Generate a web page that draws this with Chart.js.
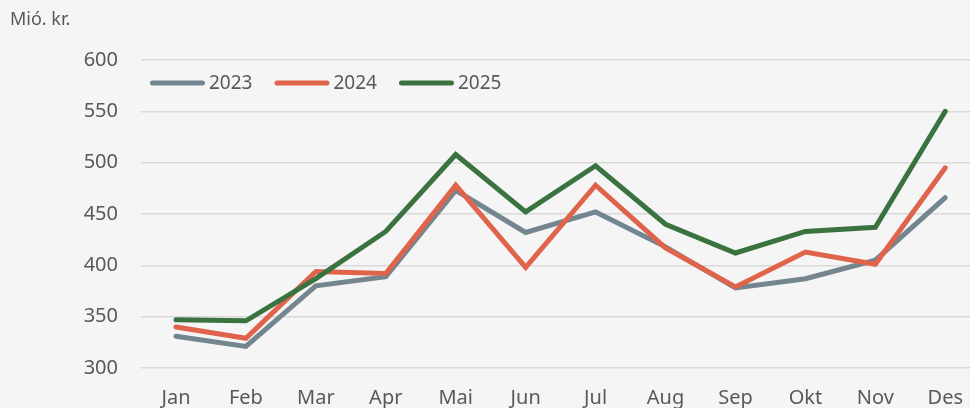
<!DOCTYPE html>
<html>
<head>
<meta charset="utf-8">
<script src="https://cdn.jsdelivr.net/npm/chart.js@4.4.1/dist/chart.umd.min.js"></script>
<style>
  html, body { margin: 0; padding: 0; background: #f5f5f5; overflow: hidden; }
  #wrap { position: relative; width: 981px; height: 412px; }
  #unit { position: absolute; left: 10px; top: 6px; font-family: "Noto Sans", sans-serif; font-size: 18px; color: #595959; }
</style>
</head>
<body>
<div id="wrap">
  <canvas id="c" width="981" height="412"></canvas>
  <div id="unit">Mió. kr.</div>
</div>
<script>
const months = ["Jan","Feb","Mar","Apr","Mai","Jun","Jul","Aug","Sep","Okt","Nov","Des"];
const seriesNames = ["2023","2024","2025"];
const values2023 = [331, 321, 380, 389, 473, 432, 452, 418, 378, 387, 405, 466];
const values2024 = [340, 329, 394, 392, 478, 398, 478, 417, 379, 413, 401, 495];
const values2025 = [347, 346, 387, 433, 508, 452, 497, 440, 412, 433, 437, 550];
const yTicks = [300, 350, 400, 450, 500, 550, 600];

const colors = ["#738690", "#e0644c", "#3a7340"];
const textColor = "#595959";
const fontFamily = "'Noto Sans', sans-serif";

const inlineLegend = {
  id: "inlineLegend",
  afterDraw(chart) {
    const ctx = chart.ctx;
    const y = 83;
    let x = 150;
    ctx.save();
    ctx.font = "19px " + fontFamily;
    ctx.textBaseline = "middle";
    chart.data.datasets.forEach(ds => {
      ctx.strokeStyle = ds.borderColor;
      ctx.lineWidth = 5;
      ctx.lineCap = "round";
      ctx.beginPath();
      ctx.moveTo(x + 2.5, y);
      ctx.lineTo(x + 52.5, y);
      ctx.stroke();
      ctx.fillStyle = textColor;
      ctx.fillText(ds.label, x + 59, y + 1);
      x += 59 + ctx.measureText(ds.label).width + 22;
    });
    ctx.restore();
  }
};

const mk = (label, data, color, order) => ({
  label, data, borderColor: color, backgroundColor: color,
  borderWidth: 5, pointRadius: 0, pointHoverRadius: 0,
  borderCapStyle: "round", borderJoinStyle: "miter",
  tension: 0, fill: false, order
});

new Chart(document.getElementById("c"), {
  type: "line",
  data: {
    labels: months,
    datasets: [
      mk(seriesNames[0], values2023, colors[0], 3),
      mk(seriesNames[1], values2024, colors[1], 2),
      mk(seriesNames[2], values2025, colors[2], 1)
    ]
  },
  options: {
    responsive: false,
    animation: false,
    devicePixelRatio: 1,
    layout: { padding: { top: 60, left: 0, right: 0, bottom: 0 } },
    plugins: { legend: { display: false }, tooltip: { enabled: false } },
    scales: {
      x: {
        offset: true,
        grid: { display: false, drawTicks: false },
        border: { display: false },
        ticks: { color: textColor, font: { family: fontFamily, size: 20 }, padding: 18, maxRotation: 0 },
        afterFit(scale) { scale.height = 44; }
      },
      y: {
        min: 300, max: 600,
        afterBuildTicks(scale) { scale.ticks = yTicks.map(v => ({ value: v })); },
        grid: { color: "#d9d9d9", lineWidth: 1.5, drawTicks: false },
        border: { display: false },
        ticks: { color: textColor, font: { family: fontFamily, size: 20 }, padding: 23 },
        afterFit(scale) { scale.width = 141; }
      }
    }
  },
  plugins: [inlineLegend]
});
</script>
</body>
</html>
